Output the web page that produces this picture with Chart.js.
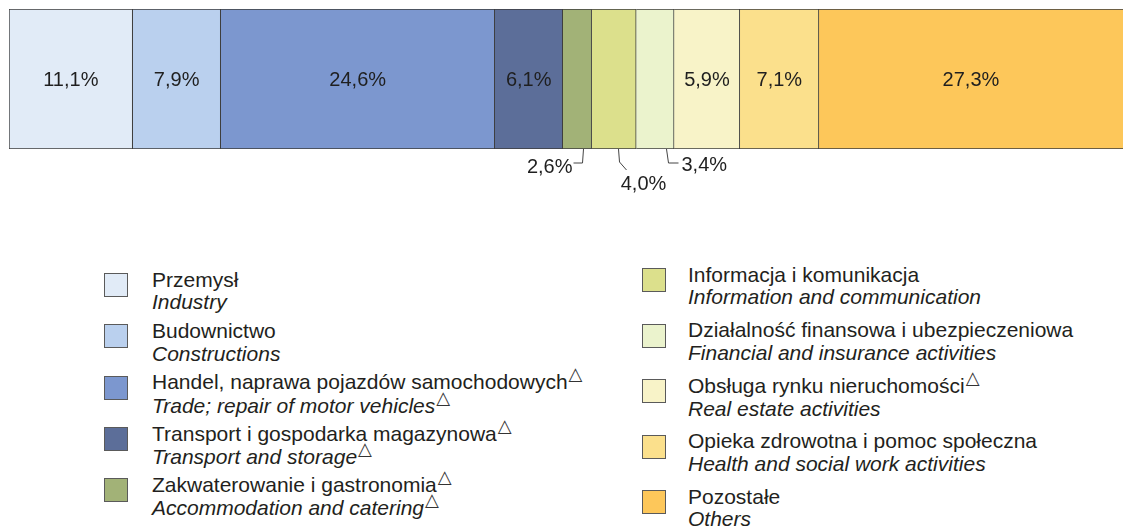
<!DOCTYPE html>
<html><head><meta charset="utf-8">
<script src="https://cdn.jsdelivr.net/npm/chart.js@4"></script>
<style>
html,body{margin:0;padding:0;background:#fff;}
#wrap{position:relative;width:1123px;height:529px;overflow:hidden;font-family:"Liberation Sans",Arial,sans-serif;color:#231f20;}
#cvbox{position:absolute;left:0;top:0;width:1123px;height:200px;}
.item{position:absolute;white-space:nowrap;font-size:21px;line-height:22.5px;}
.sw{position:absolute;width:22px;height:22px;border:1px solid #5a5a5a;}
.en{font-style:italic;}
.tri{font-family:"DejaVu Sans",sans-serif;font-style:normal;font-size:18px;position:relative;top:-9px;margin-left:1px;color:#333;}
</style></head><body>
<div id="wrap">
  <div id="cvbox"><canvas id="cv" width="1123" height="200"></canvas></div>
  <div id="legend"></div>
</div>
<script>
// ---- data ----
const categoriesPl = ["Przemysł","Budownictwo","Handel, naprawa pojazdów samochodowych","Transport i gospodarka magazynowa","Zakwaterowanie i gastronomia","Informacja i komunikacja","Działalność finansowa i ubezpieczeniowa","Obsługa rynku nieruchomości","Opieka zdrowotna i pomoc społeczna","Pozostałe"];
const categoriesEn = ["Industry","Constructions","Trade; repair of motor vehicles","Transport and storage","Accommodation and catering","Information and communication","Financial and insurance activities","Real estate activities","Health and social work activities","Others"];
const markPl = [false,false,true,true,true,false,false,true,false,false];
const markEn = [false,false,true,true,true,false,false,false,false,false];
const shares = [11.1,7.9,24.6,6.1,2.6,4.0,3.4,5.9,7.1,27.3];

// ---- style ----
const colors = ["#E1EBF7","#BAD0EE","#7C97CF","#5C6E99","#A2B277","#DCE08C","#EBF3CD","#F8F3C8","#FBE08C","#FDC75A"];
const placement = ["in","in","in","in","left","below","right","in","in","in"];
const fmt = v => v.toFixed(1).replace('.', ',') + '%';

const labelPlugin = {
  id: 'segLabels',
  afterDatasetsDraw(chart) {
    const ctx = chart.ctx;
    ctx.save();
    ctx.fillStyle = '#1f1f1f';
    ctx.strokeStyle = '#444';
    ctx.lineWidth = 1;
    chart.data.datasets.forEach((ds, i) => {
      const el = chart.getDatasetMeta(i).data[0];
      if (!el) return;
      const x0 = Math.min(el.x, el.base), x1 = Math.max(el.x, el.base);
      const cx = (x0 + x1) / 2, w = x1 - x0;
      const bottom = el.y + el.height / 2;
      const txt = fmt(ds.data[0]);
      const p = placement[i];
      if (p === 'in') {
        ctx.font = '20px "Liberation Sans", Arial, sans-serif';
        ctx.textAlign = 'center'; ctx.textBaseline = 'middle';
        ctx.fillText(txt, cx, el.y + 1);
        return;
      }
      ctx.font = '20px "Liberation Sans", Arial, sans-serif';
      ctx.beginPath();
      if (p === 'left') {
        const sx = Math.round(cx + 0.2 * w) + 0.5;
        ctx.moveTo(sx, bottom); ctx.lineTo(sx - 1, bottom + 14); ctx.lineTo(sx - 10, bottom + 14);
        ctx.stroke();
        ctx.textAlign = 'right'; ctx.textBaseline = 'middle';
        ctx.fillText(txt, sx - 11, bottom + 18);
      } else if (p === 'below') {
        const sx = Math.round(cx + 0.1 * w) + 0.5;
        ctx.moveTo(sx, bottom); ctx.lineTo(sx + 1, bottom + 13); ctx.lineTo(sx + 8, bottom + 21);
        ctx.stroke();
        ctx.textAlign = 'center'; ctx.textBaseline = 'middle';
        ctx.fillText(txt, sx + 25, bottom + 35);
      } else if (p === 'right') {
        const sx = Math.round(cx + 0.3 * w) + 0.5;
        ctx.moveTo(sx, bottom); ctx.lineTo(sx + 2, bottom + 14); ctx.lineTo(sx + 12, bottom + 14);
        ctx.stroke();
        ctx.textAlign = 'left'; ctx.textBaseline = 'middle';
        ctx.fillText(txt, sx + 15, bottom + 16);
      }
    });
    ctx.restore();
  }
};

new Chart(document.getElementById('cv'), {
  type: 'bar',
  data: {
    labels: [''],
    datasets: shares.map((v, i) => ({
      label: categoriesPl[i],
      data: [v],
      backgroundColor: colors[i],
      borderColor: '#3c3c3c',
      borderWidth: {left: i === 0 ? 1 : 0, right: i === shares.length - 1 ? 0 : 1, top: 1, bottom: 1},
      borderSkipped: false,
      barPercentage: 1,
      categoryPercentage: 1
    }))
  },
  options: {
    indexAxis: 'y',
    responsive: false,
    animation: false,
    layout: {padding: {left: 9, top: 9, right: 0, bottom: 51}},
    plugins: {legend: {display: false}, tooltip: {enabled: false}},
    scales: {
      x: {stacked: true, min: 0, max: 100, display: false},
      y: {stacked: true, display: false}
    }
  },
  plugins: [labelPlugin]
});

// ---- legend (HTML, two columns) ----
const legend = document.getElementById('legend');
const cols = [
  {swLeft: 104, txtLeft: 152, firstCenter: 280, pitch: 51.3},
  {swLeft: 642, txtLeft: 688, firstCenter: 275, pitch: 55.5}
];
const tri = '<span class="tri">\u25B3</span>';
categoriesPl.forEach((name, i) => {
  const c = cols[i < 5 ? 0 : 1];
  const k = i % 5;
  const center = c.firstCenter + k * c.pitch;
  const sw = document.createElement('div');
  sw.className = 'sw';
  sw.style.left = c.swLeft + 'px';
  sw.style.top = (center - 7) + 'px';
  sw.style.background = colors[i];
  legend.appendChild(sw);
  const it = document.createElement('div');
  it.className = 'item';
  it.style.left = c.txtLeft + 'px';
  it.style.top = (center - 11.25) + 'px';
  it.innerHTML = '<div>' + name + (markPl[i] ? tri : '') + '</div>' +
                 '<div class="en">' + categoriesEn[i] + (markEn[i] ? tri : '') + '</div>';
  legend.appendChild(it);
});
</script>
</body></html>
